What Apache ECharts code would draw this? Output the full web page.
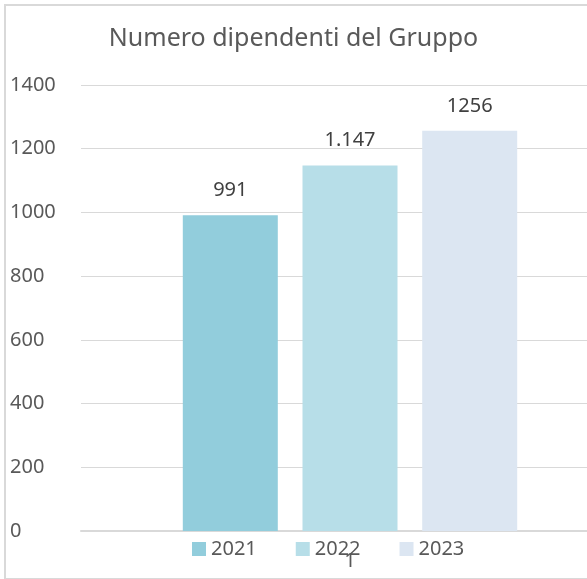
<!DOCTYPE html>
<html>
<head>
<meta charset="utf-8">
<script src="https://cdn.jsdelivr.net/npm/echarts@6/dist/echarts.min.js"></script>
<style>
  html, body { margin: 0; padding: 0; background: #fff; }
  .frame {
    position: absolute;
    left: 4px;
    top: 4px;
    width: 600px;
    height: 572px;
    border: 2px solid #d9d9d9;
    border-right: none;
  }
  #chart {
    position: absolute;
    left: 0;
    top: 0;
    width: 587px;
    height: 579px;
  }
</style>
</head>
<body>
<div class="frame"></div>
<div id="chart"></div>
<script>
const categories = ['1']
const seriesNames = ['2021', '2022', '2023']
const values = [991, 1147, 1256]
const valueLabels = ['991', '1.147', '1256']
const colors = ['#92cddc', '#b7dee8', '#dce6f2']

const chart = echarts.init(document.getElementById('chart'))

const series = seriesNames.map((name, i) => ({
  name: name,
  type: 'bar',
  data: [values[i]],
  barWidth: 95,
  barGap: '26%',
  itemStyle: { color: colors[i] },
  label: {
    show: true,
    position: 'top',
    distance: 15,
    color: '#404040',
    fontSize: 20,
    fontFamily: 'Noto Sans',
    formatter: () => valueLabels[i],
  },
}))

chart.setOption({
  animation: false,
  textStyle: { fontFamily: 'Noto Sans' },
  title: {
    text: 'Numero dipendenti del Gruppo',
    left: 'center',
    top: 21,
    textStyle: {
      color: '#595959',
      fontSize: 25,
      fontWeight: 'normal',
      fontFamily: 'Noto Sans',
    },
  },
  legend: {
    left: 192,
    top: 539,
    padding: 0,
    itemWidth: 14,
    itemHeight: 14,
    itemGap: 39,
    icon: 'rect',
    textStyle: { color: '#595959', fontSize: 20, fontFamily: 'Noto Sans' },
    data: seriesNames,
  },
  grid: {
    left: 81,
    right: -32,
    top: 85,
    bottom: 48,
    outerBoundsMode: 'none',
  },
  xAxis: {
    type: 'category',
    data: categories,
    axisLine: { show: true, lineStyle: { color: '#d9d9d9', width: 2 } },
    axisTick: { show: false },
    axisLabel: {
      color: '#595959',
      fontSize: 20,
      margin: 20,
      fontFamily: 'Noto Sans',
    },
  },
  yAxis: {
    type: 'value',
    min: 0,
    max: 1400,
    interval: 200,
    axisLine: { show: false },
    axisTick: { show: false },
    splitLine: { lineStyle: { color: '#d9d9d9', width: 1 } },
    axisLabel: {
      color: '#595959',
      fontSize: 20,
      align: 'left',
      margin: 71,
      fontFamily: 'Noto Sans',
      formatter: (v) => String(v),
    },
  },
  series: series,
})
</script>
</body>
</html>
